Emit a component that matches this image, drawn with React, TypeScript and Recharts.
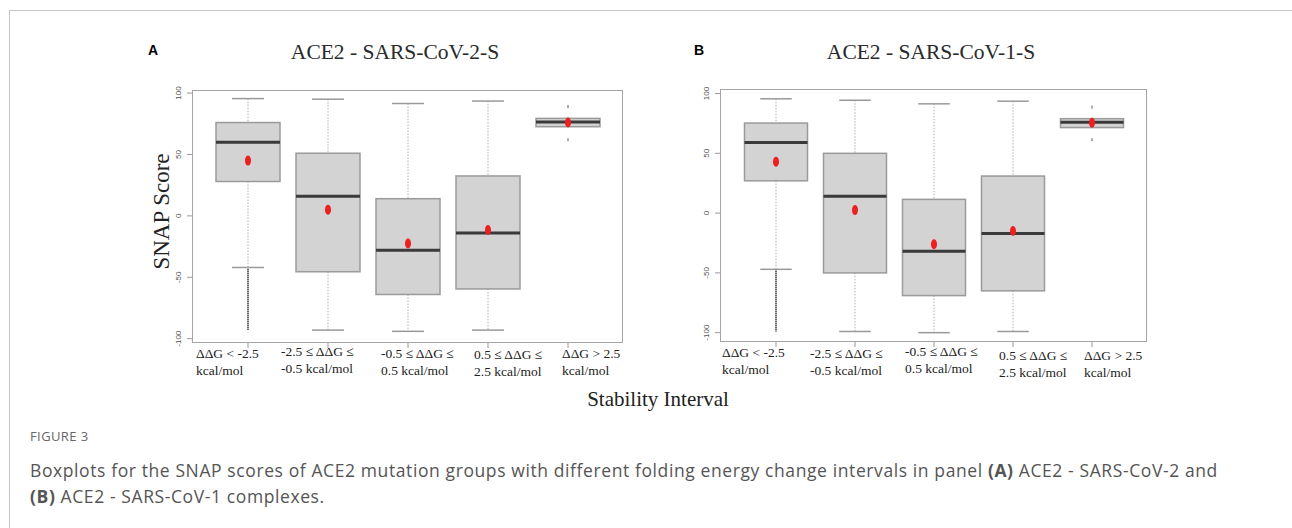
import React from 'react';
import { ComposedChart, Bar, XAxis, YAxis } from 'recharts';

// categories (two text lines each)
const labelTop = ['ΔΔG < -2.5', '-2.5 ≤ ΔΔG ≤', '-0.5 ≤ ΔΔG ≤', '0.5 ≤ ΔΔG ≤', 'ΔΔG > 2.5'];
const labelBottom = ['kcal/mol', '-0.5 kcal/mol', '0.5 kcal/mol', '2.5 kcal/mol', 'kcal/mol'];
const yTicks = [-100, -50, 0, 50, 100];

// panel A: ACE2 - SARS-CoV-2-S
const whiskerHiA = [95.5, 95, 91.5, 93.5, 79.4];
const q3A = [76, 51, 14, 32.5, 79.4];
const medianA = [60, 16, -28, -14, 76.5];
const q1A = [28, -45.5, -64, -59.5, 72.6];
const whiskerLoA = [-42, -93, -94, -93, 72.6];
const meanA = [45, 5, -22.5, -11.5, 76];
const outlierSpanA: (number[] | null)[] = [[-43, -93], null, null, null, null];
const outlierPtsA = [[], [], [], [], [89, 62]];

// panel B: ACE2 - SARS-CoV-1-S
const whiskerHiB = [95.6, 94.4, 91.4, 93.6, 79];
const q3B = [75.3, 50, 11.5, 31, 79];
const medianB = [59, 14, -32, -17, 76];
const q1B = [27, -50, -69, -65, 71.5];
const whiskerLoB = [-47, -99, -100, -99, 71.5];
const meanB = [43, 2.5, -26, -15, 75.5];
const outlierSpanB: (number[] | null)[] = [[-48, -99], null, null, null, null];
const outlierPtsB = [[], [], [], [], [88.6, 61.4]];

const serif = '"Liberation Serif", "Times New Roman", serif';

const buildRows = (hi: number[], q3: number[], med: number[], q1: number[], lo: number[], mean: number[],
  span: (number[] | null)[], pts: number[][]) =>
  labelTop.map((_, i) => {
    const all = [hi[i], lo[i], ...(span[i] || []), ...pts[i]];
    const top = Math.max(...all);
    const bot = Math.min(...all);
    return {
      cat: String(i), range: [bot, top], top, bot,
      whiskerHi: hi[i], q3: q3[i], median: med[i], q1: q1[i], whiskerLo: lo[i], mean: mean[i],
      span: span[i], pts: pts[i],
    };
  });

const rowsA = buildRows(whiskerHiA, q3A, medianA, q1A, whiskerLoA, meanA, outlierSpanA, outlierPtsA);
const rowsB = buildRows(whiskerHiB, q3B, medianB, q1B, whiskerLoB, meanB, outlierSpanB, outlierPtsB);

const BoxShape = (props: any) => {
  const { x, y, width, height, payload } = props;
  const y0 = Math.min(y, y + height);
  const y1 = Math.max(y, y + height);
  const px = (v: number) => y0 + ((payload.top - v) / (payload.top - payload.bot)) * (y1 - y0);
  const cx = x + width / 2;
  const bw = width;
  const cap = width / 2;
  const p = payload;
  return (
    <g>
      {p.whiskerHi > p.q3 && (
        <>
          <line x1={cx} x2={cx} y1={px(p.whiskerHi)} y2={px(p.q3)} stroke="#b0b0b0" strokeDasharray="1.5 1.5" />
          <line x1={cx - cap / 2} x2={cx + cap / 2} y1={px(p.whiskerHi)} y2={px(p.whiskerHi)} stroke="#999" strokeWidth={1.5} />
        </>
      )}
      {p.whiskerLo < p.q1 && (
        <>
          <line x1={cx} x2={cx} y1={px(p.q1)} y2={px(p.whiskerLo)} stroke="#b0b0b0" strokeDasharray="1.5 1.5" />
          <line x1={cx - cap / 2} x2={cx + cap / 2} y1={px(p.whiskerLo)} y2={px(p.whiskerLo)} stroke="#999" strokeWidth={1.5} />
        </>
      )}
      <rect x={cx - bw / 2} y={px(p.q3)} width={bw} height={px(p.q1) - px(p.q3)} fill="#d3d3d3" stroke="#9a9a9a" strokeWidth={1.5} />
      <line x1={cx - bw / 2} x2={cx + bw / 2} y1={px(p.median)} y2={px(p.median)} stroke="#3a3a3a" strokeWidth={3} />
      {p.span && (
        <line x1={cx} x2={cx} y1={px(p.span[0])} y2={px(p.span[1])} stroke="#6a6a6a" strokeWidth={2} strokeDasharray="1.5 0.5" />
      )}
      {p.pts.map((v: number, k: number) => (
        <rect key={k} x={cx - 0.8} y={px(v) - 1.5} width={1.6} height={3} fill="#999" />
      ))}
      <ellipse cx={cx} cy={px(p.mean)} rx={3} ry={5} fill="#ee1f1f" />
    </g>
  );
};

const YTick = (props: any) => {
  const { x, y, payload } = props;
  return (
    <text transform={`translate(${x - 4},${y}) rotate(-90)`} textAnchor="middle" fontSize={8} fill="#555" fontFamily="Arial, sans-serif">
      {payload.value}
    </text>
  );
};

const makeXTick = (dxs: number[], dys: number[]) => (props: any) => {
  const { x, y, payload } = props;
  const i = Number(payload.value);
  return (
    <text x={x + dxs[i]} y={y + 8 + dys[i]} fontSize={13.5} fill="#222" fontFamily={serif} textAnchor="start">
      <tspan x={x + dxs[i]}>{labelTop[i]}</tspan>
      <tspan x={x + dxs[i]} dy={16.5}>{labelBottom[i]}</tspan>
    </text>
  );
};

interface PanelProps {
  rows: any[];
  left: number;
  top: number;
  plotLeft: number;
  plotTop: number;
  plotRight: number;
  plotBottom: number;
  domain: [number, number];
  pad: { left: number; right: number };
  boxWidth: number;
  dxs: number[];
  dys: number[];
  yTitle?: string;
}

const Panel: React.FC<PanelProps> = (p) => {
  const yAxisW = p.plotLeft - p.left;
  const width = p.plotRight + 10 - p.left;
  const xAxisH = 47;
  const height = p.plotBottom + xAxisH - p.top;
  return (
    <>
      <div style={{ position: 'absolute', left: p.left, top: p.top }}>
        <ComposedChart width={width} height={height} data={p.rows}
          margin={{ top: p.plotTop - p.top, right: 10, bottom: 0, left: 0 }}>
          <XAxis dataKey="cat" type="category" padding={p.pad} height={xAxisH}
            axisLine={false} tickLine={{ stroke: '#999' }} tickSize={5}
            tick={makeXTick(p.dxs, p.dys)} interval={0} />
          <YAxis type="number" domain={p.domain} ticks={yTicks} allowDataOverflow width={yAxisW}
            axisLine={false} tickLine={{ stroke: '#999' }} tickSize={5} tick={<YTick />}
            label={p.yTitle ? { value: p.yTitle, angle: -90, position: 'center', dx: 0, dy: -5, style: { fontFamily: serif, fontSize: 23, fill: '#222' } } : undefined} />
          <Bar dataKey="range" barSize={p.boxWidth} shape={<BoxShape />} isAnimationActive={false} />
        </ComposedChart>
      </div>
      <div style={{
        position: 'absolute', left: p.plotLeft, top: p.plotTop, width: p.plotRight - p.plotLeft,
        height: p.plotBottom - p.plotTop, border: '1px solid #a5a5a5', boxSizing: 'border-box', pointerEvents: 'none',
      }} />
    </>
  );
};

const abs = (l: number, t: number, extra: React.CSSProperties = {}): React.CSSProperties => ({
  position: 'absolute', left: l, top: t, whiteSpace: 'nowrap', ...extra,
});

export default function App() {
  return (
    <div style={{ position: 'relative', width: 1292, height: 528, background: '#fff', overflow: 'hidden' }}>
      <style>{'body{margin:0}'}</style>
      <div style={{ position: 'absolute', left: 9, top: 10, right: 0, bottom: 0, borderTop: '1px solid #c4c4c4', borderLeft: '1px solid #c4c4c4' }} />

      <div style={abs(148, 42, { fontFamily: 'Arial, "Liberation Sans", sans-serif', fontWeight: 700, fontSize: 14 })}>A</div>
      <div style={abs(694, 42, { fontFamily: 'Arial, "Liberation Sans", sans-serif', fontWeight: 700, fontSize: 14 })}>B</div>
      <div style={abs(245, 40, { fontFamily: serif, fontSize: 21.5, color: '#2a2a2a', width: 300, textAlign: 'center' })}>ACE2 - SARS-CoV-2-S</div>
      <div style={abs(781, 40, { fontFamily: serif, fontSize: 21.5, color: '#2a2a2a', width: 300, textAlign: 'center' })}>ACE2 - SARS-CoV-1-S</div>

      <Panel rows={rowsA} left={130} top={30} plotLeft={192} plotTop={90} plotRight={623} plotBottom={343}
        domain={[-103.5, 102.5]} pad={{ left: 16, right: 15 }} boxWidth={64}
        dxs={[-52, -47, -27, -14, -6]} dys={[0, -2, 0, 1, 0]} yTitle="SNAP Score" />
      <Panel rows={rowsB} left={680} top={30} plotLeft={720} plotTop={89} plotRight={1147} plotBottom={342}
        domain={[-107.8, 103.8]} pad={{ left: 16.5, right: 15.5 }} boxWidth={63}
        dxs={[-54, -45, -29, -14, -8]} dys={[0, 1, -1, 3, 3]} />

      <div style={abs(558, 387, { fontFamily: serif, fontSize: 21, color: '#222', width: 200, textAlign: 'center' })}>Stability Interval</div>

      <div style={abs(30, 427, { fontFamily: '"Open Sans", sans-serif', fontSize: 13, color: '#666', letterSpacing: 0.4 })}>FIGURE 3</div>
      <div style={abs(30, 457, { fontFamily: '"Open Sans", sans-serif', fontSize: 17.5, color: '#555', lineHeight: '26px', letterSpacing: 0.6 })}>
        Boxplots for the SNAP scores of ACE2 mutation groups with different folding energy change intervals in panel <b>(A)</b> ACE2 - SARS-CoV-2 and
        <br />
        <b>(B)</b> ACE2 - SARS-CoV-1 complexes.
      </div>
    </div>
  );
}
